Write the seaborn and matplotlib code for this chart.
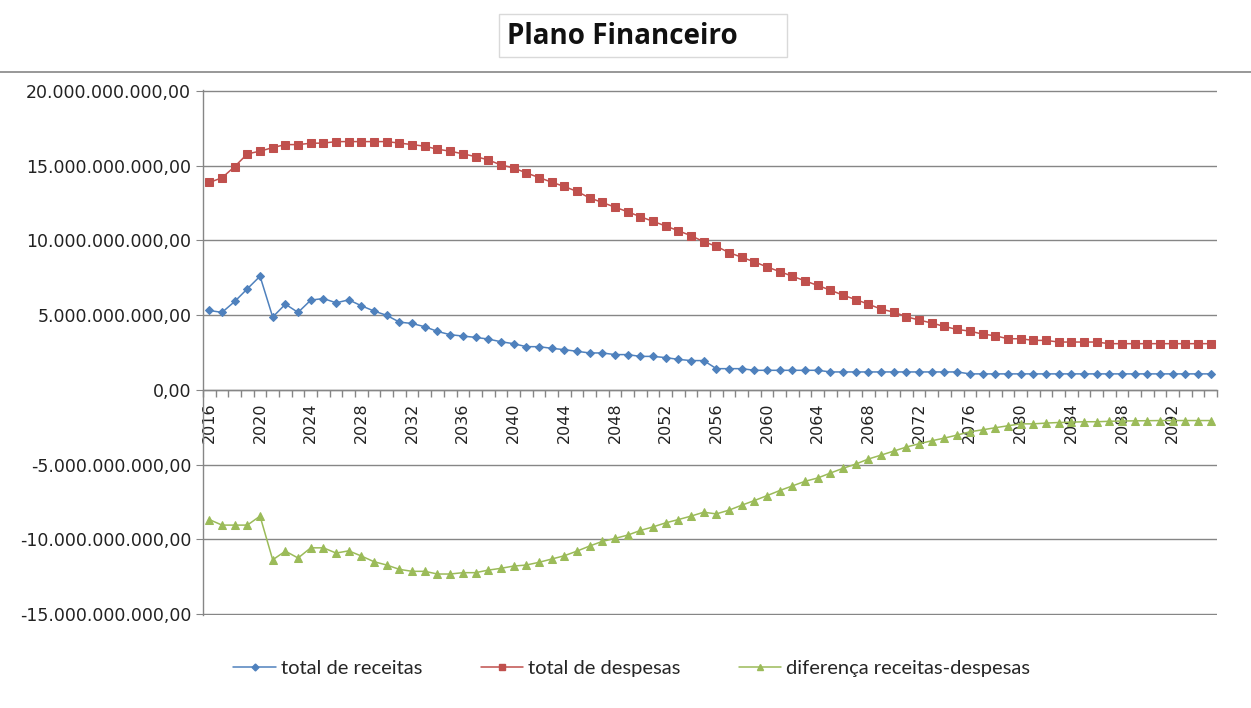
import numpy as np
import pandas as pd
import matplotlib
matplotlib.use("Agg")
import matplotlib.pyplot as plt
from matplotlib.ticker import FuncFormatter, MultipleLocator
from matplotlib.lines import Line2D
from matplotlib.patches import Rectangle
import seaborn as sns

# values in billions (1e9)
anos = list(range(2016, 2096))

receitas = [5.31, 5.18, 5.91, 6.76, 7.60, 4.87, 5.73, 5.18, 6.00, 6.11,
            5.82, 6.02, 5.62, 5.27, 4.98, 4.53, 4.44, 4.22, 3.91, 3.69,
            3.60, 3.51, 3.40, 3.22, 3.09, 2.89, 2.89, 2.78, 2.69, 2.58,
            2.47, 2.47, 2.36, 2.36, 2.24, 2.24, 2.16, 2.04, 1.96, 1.96,
            1.42, 1.42, 1.42, 1.31, 1.31, 1.31, 1.31, 1.31, 1.31, 1.20,
            1.20, 1.20, 1.20, 1.20, 1.20, 1.20, 1.20, 1.20, 1.20, 1.20,
            1.07, 1.07, 1.07, 1.07, 1.07, 1.07, 1.07, 1.07, 1.07, 1.07,
            1.07, 1.07, 1.07, 1.07, 1.07, 1.07, 1.07, 1.07, 1.07, 1.07]

despesas = [13.87, 14.18, 14.93, 15.78, 15.96, 16.20, 16.40, 16.40, 16.49, 16.50,
            16.60, 16.60, 16.60, 16.60, 16.60, 16.50, 16.40, 16.29, 16.09, 15.96,
            15.78, 15.60, 15.38, 15.04, 14.84, 14.51, 14.20, 13.89, 13.60, 13.27,
            12.84, 12.53, 12.22, 11.91, 11.58, 11.27, 10.96, 10.64, 10.31, 9.91,
            9.60, 9.18, 8.87, 8.56, 8.22, 7.91, 7.60, 7.29, 6.98, 6.67,
            6.33, 6.04, 5.73, 5.40, 5.20, 4.89, 4.67, 4.47, 4.24, 4.04,
            3.93, 3.73, 3.62, 3.42, 3.42, 3.31, 3.31, 3.20, 3.20, 3.20,
            3.20, 3.09, 3.09, 3.09, 3.09, 3.09, 3.09, 3.09, 3.09, 3.09]

diferenca = [-8.67, -9.04, -9.04, -9.04, -8.44, -11.36, -10.78, -11.24, -10.56, -10.56,
             -10.91, -10.76, -11.11, -11.49, -11.71, -12.00, -12.13, -12.13, -12.31, -12.31,
             -12.22, -12.22, -12.05, -11.93, -11.78, -11.71, -11.53, -11.31, -11.09, -10.78,
             -10.44, -10.13, -9.93, -9.71, -9.40, -9.16, -8.89, -8.67, -8.44, -8.18,
             -8.29, -8.04, -7.71, -7.40, -7.07, -6.73, -6.42, -6.11, -5.89, -5.56,
             -5.24, -4.96, -4.62, -4.36, -4.09, -3.82, -3.60, -3.40, -3.22, -3.02,
             -2.80, -2.67, -2.53, -2.40, -2.27, -2.27, -2.22, -2.18, -2.16, -2.13,
             -2.13, -2.10, -2.08, -2.07, -2.06, -2.05, -2.05, -2.05, -2.05, -2.05]

nomes = ["total de receitas", "total de despesas", "diferença receitas-despesas"]
cores = ["#4F81BD", "#C0504D", "#9BBB59"]
rotulos_x = [str(a) for a in range(2016, 2093, 4)]

df = pd.DataFrame({"ano": anos,
                   nomes[0]: np.array(receitas) * 1e9,
                   nomes[1]: np.array(despesas) * 1e9,
                   nomes[2]: np.array(diferenca) * 1e9})

sns.set_style("white")
plt.rcParams['font.family'] = ['DejaVu Sans']

fig = plt.figure(figsize=(12.51, 7.08), dpi=100)
ax = fig.add_axes([203/1251, 1-615/708, (1217-203)/1251, (615-90)/708])

sns.lineplot(data=df, x="ano", y=nomes[0], ax=ax, color=cores[0], marker="D",
             markersize=4.3, markeredgecolor=cores[0], linewidth=1.1, label=nomes[0])
sns.lineplot(data=df, x="ano", y=nomes[1], ax=ax, color=cores[1], marker="s",
             markersize=6, markeredgecolor=cores[1], linewidth=1.1, label=nomes[1])
sns.lineplot(data=df, x="ano", y=nomes[2], ax=ax, color=cores[2], marker="^",
             markersize=5.5, markeredgecolor=cores[2], linewidth=1.1, label=nomes[2])

# axis line at zero first (it resets the ticks)
ax.spines["bottom"].set_position(("data", 0))
for s in ["top", "right"]:
    ax.spines[s].set_visible(False)
for s in ["left", "bottom"]:
    ax.spines[s].set_color("#868686")
    ax.spines[s].set_linewidth(1)

ax.set_xlim(2015.5, 2095.5)
ax.set_ylim(-15.05e9, 20.05e9)
ax.set_xlabel("")
ax.set_ylabel("")

def fmt_br(v, pos):
    s = "{:,.2f}".format(v)
    return s.replace(",", "X").replace(".", ",").replace("X", ".")

ax.yaxis.set_major_locator(MultipleLocator(5e9))
ax.yaxis.set_major_formatter(FuncFormatter(fmt_br))
ax.grid(axis="y", color="#868686", linewidth=1)
ax.grid(axis="x", visible=False)

ax.set_xticks(list(range(2016, 2093, 4)))
ax.set_xticklabels(rotulos_x)
ax.set_xticks([a + 0.5 for a in range(2015, 2096)], minor=True)
ax.tick_params(axis="x", which="major", bottom=True, length=0, pad=9, labelcolor="#222222",
               labelrotation=90, labelsize=11.5)
ax.tick_params(axis="x", which="minor", bottom=True, length=5, direction="out",
               color="#868686", width=1)
ax.tick_params(axis="y", length=5, direction="out", color="#868686", labelsize=12.5,
               labelcolor="#222222", left=True)

ax.get_legend().remove()
handles = [Line2D([], [], color=cores[0], marker="D", markersize=3.5, lw=1.1),
           Line2D([], [], color=cores[1], marker="s", markersize=5, lw=1.1),
           Line2D([], [], color=cores[2], marker="^", markersize=4.5, lw=1.1)]
fig.legend(handles, nomes, loc="center", bbox_to_anchor=(0.505, 1-668/708), ncol=3,
           frameon=False, prop={"family": "Lato", "size": 14.5}, handlelength=2.1,
           handletextpad=0.25, columnspacing=2.9)

# title box
fig.add_artist(Rectangle((499/1251, 1-57/708), (787-499)/1251, (57-14)/708,
                         transform=fig.transFigure, facecolor="white",
                         edgecolor="#D9D9D9", lw=1))
fig.text(507/1251, 1-36/708, "Plano Financeiro", ha="left", va="center",
         fontsize=20, fontweight="bold", family="Open Sans", color="#111111")

fig.add_artist(Line2D([0, 1], [1-72/708, 1-72/708], color="#868686", lw=1.2,
                      transform=fig.transFigure))

fig.savefig("out.png", dpi=100)
